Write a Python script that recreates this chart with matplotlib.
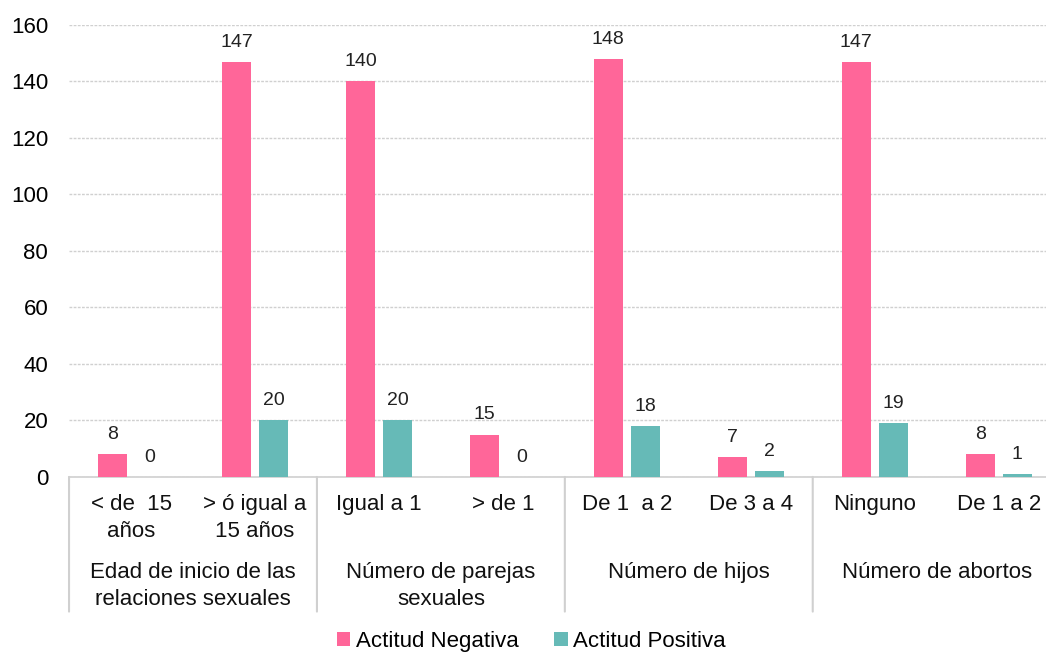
import numpy as np
import matplotlib.pyplot as plt

plt.rcParams['font.family'] = ['Liberation Sans', 'DejaVu Sans']

categories = ['< de  15\naños', '> ó igual a\n15 años', 'Igual a 1', '> de 1',
              'De 1  a 2', 'De 3 a 4', 'Ninguno', 'De 1 a 2']
groups = ['Edad de inicio de las\nrelaciones sexuales', 'Número de parejas\nsexuales',
          'Número de hijos', 'Número de abortos']
negativa = [8, 147, 140, 15, 148, 7, 147, 8]
positiva = [0, 20, 20, 0, 18, 2, 19, 1]

PINK = '#FF6699'
TEAL = '#66BAB7'
GRID = '#D0D0D0'
FS = 16

fig = plt.figure(figsize=(10.46, 6.56), dpi=100)
# the plot area runs a little past the right edge of the image, as in the original
ax = fig.add_axes([0.066, 0.273, 0.948, 0.689])

x = np.arange(len(categories))
w = 0.234
off = 0.149
b1 = ax.bar(x - off, negativa, w, color=PINK, label='Actitud Negativa', zorder=3)
b2 = ax.bar(x + off, positiva, w, color=TEAL, label='Actitud Positiva', zorder=3)

for bars, vals in [(b1, negativa), (b2, positiva)]:
    for r, v in zip(bars, vals):
        ax.annotate(str(v), (r.get_x() + r.get_width() / 2, v), xytext=(0, 8),
                    textcoords='offset points', ha='center', va='bottom',
                    fontsize=14, color='#222222')

ax.set_xlim(-0.5, len(categories) - 0.5)
ax.set_ylim(0, 160)
ax.set_yticks(range(0, 161, 20))
ax.tick_params(axis='y', length=0, labelsize=FS, pad=15)
ax.set_xticks([])
ax.yaxis.grid(True, color=GRID, linestyle=(0, (2, 1)), linewidth=1, zorder=0)
for s in ['top', 'right', 'left']:
    ax.spines[s].set_visible(False)
ax.spines['bottom'].set_color(GRID)
ax.spines['bottom'].set_linewidth(1.2)

trans = ax.get_xaxis_transform()
for i, lab in enumerate(categories):
    ax.annotate(lab, (i, 0), xycoords=trans, xytext=(0, -12), textcoords='offset points',
                ha='center', va='top', fontsize=FS, linespacing=1.4, color='#111111')
for g, lab in enumerate(groups):
    ax.annotate(lab, (2 * g + 0.5, 0), xycoords=trans, xytext=(0, -61),
                textcoords='offset points', ha='center', va='top', fontsize=FS,
                linespacing=1.4, color='#111111')
for b in range(0, len(categories) + 1, 2):
    ax.annotate('', (b - 0.5, 0), xycoords=trans, xytext=(b - 0.5, -0.298),
                textcoords=trans,
                arrowprops=dict(arrowstyle='-', color=GRID, linewidth=1.5,
                                shrinkA=0, shrinkB=0))

fig.legend(handles=[b1, b2], loc='center', bbox_to_anchor=(0.508, 0.022), ncol=2,
           frameon=False, fontsize=FS, handlelength=0.6, handleheight=0.6,
           handletextpad=0.25, columnspacing=1.6)

fig.savefig('out.png', dpi=100)
